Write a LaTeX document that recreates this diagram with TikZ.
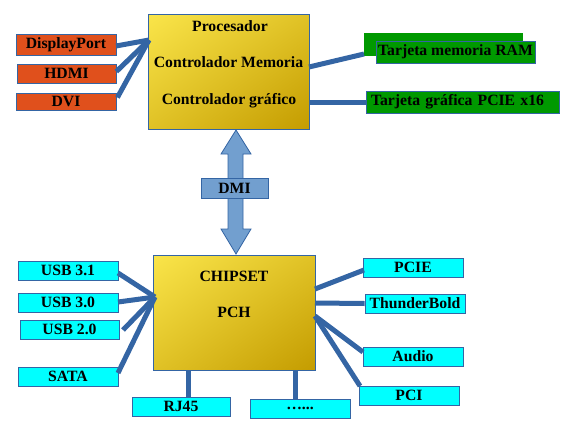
\documentclass[tikz,border=0pt]{standalone}
\usepackage{fontspec}
\setmainfont{Liberation Serif}
\usetikzlibrary{shadings}
\definecolor{lineblue}{HTML}{3465A4}
\definecolor{orangefill}{HTML}{E0501C}
\definecolor{greenfill}{HTML}{009900}
\definecolor{cyanfill}{HTML}{00FFFF}
\definecolor{dmifill}{HTML}{729FCF}
\definecolor{goldA}{HTML}{FAE54A}
\definecolor{goldB}{HTML}{E0C226}
\definecolor{goldC}{HTML}{C49C00}
\begin{document}
\begin{tikzpicture}[x=1pt,y=-1pt,
  txt/.style={font=\bfseries\fontsize{15.7}{18}\selectfont, text=black, inner sep=0pt},
  box/.style={txt, draw=lineblue, line width=0.8pt},
  orangebox/.style={box, fill=orangefill},
  greenbox/.style={box, fill=greenfill},
  cyanbox/.style={box, fill=cyanfill},
  goldbox/.style={draw=lineblue, line width=0.8pt, inner sep=0pt,
    upper left=goldA, upper right=goldB, lower left=goldB, lower right=goldC},
  conn/.style={draw=lineblue, line width=5pt}]
\useasboundingbox (0,0) rectangle (573,434);
% --- top: processor
\node[goldbox, minimum width=161, minimum height=115] (proc) at (228.5,71.5) {};
\node[txt, anchor=base] (pt1) at (230,31) {Procesador};
\node[txt, anchor=base] (pt2) at (228.5,67.7) {Controlador Memoria};
\node[txt, anchor=base] (pt3) at (229,104) {Controlador gráfico};
\node[orangebox, minimum width=100, minimum height=21] (dp) at (66,44.5) {DisplayPort};
\node[orangebox, minimum width=99, minimum height=19] (hdmi) at (66.5,73.5) {HDMI};
\node[orangebox, minimum width=100, minimum height=17] (dvi) at (66,101.5) {DVI};
\node[fill=greenfill, draw=greenfill, inner sep=0pt, minimum width=158, minimum height=22] (ramback) at (443,44) {};
\node[greenbox, minimum width=159, minimum height=22] (ram) at (455.5,52) {Tarjeta memoria RAM};
\node[greenbox, inner xsep=5pt, text width=183pt, align=left, minimum height=22] (pcie16) at (462.5,102) {Tarjeta gráfica PCIE x16};
\coordinate (pin) at (149,40);
\coordinate (pram) at (309,67);
\coordinate (ramin) at (364,54);
\coordinate (pgfx) at (309,102);
\coordinate (gfxin) at (366,102);
\draw[conn] (116,46) -- (pin);
\draw[conn] (hdmi.east) ++(0,-2) -- (pin);
\draw[conn] (dvi.east) ++(1,-4) -- (pin);
\draw[conn] (pram) -- (ramin);
\draw[conn] (pgfx) -- (gfxin);
% --- DMI
\coordinate (dmitop) at (236,130);
\coordinate (dmibot) at (236,254);
\draw[fill=dmifill, draw=lineblue, line width=0.8pt] (dmitop) -- ++(15,24) -- ++(-8,0) -- ++(0,75) -- ++(8,0) -- (dmibot) -- ++(-15,-25) -- ++(7,0) -- ++(0,-75) -- ++(-7,0) -- cycle;
\node[box, fill=dmifill, minimum width=67, minimum height=20] (dmi) at (234.5,188) {DMI};
% --- chipset
\node[goldbox, minimum width=162, minimum height=115] (chip) at (234,312.5) {};
\node[txt, anchor=base] (ct1) at (234,281.3) {CHIPSET};
\node[txt, anchor=base] (ct2) at (234,317.7) {PCH};
\node[cyanbox, minimum width=100, minimum height=19] (u31) at (68,270.5) {USB 3.1};
\node[cyanbox, minimum width=100, minimum height=19] (u30) at (68,302.5) {USB 3.0};
\node[cyanbox, minimum width=99, minimum height=19] (u20) at (69.5,329.5) {USB 2.0};
\node[cyanbox, minimum width=100, minimum height=19] (sata) at (68,376.5) {SATA};
\node[cyanbox, minimum width=98, minimum height=19] (rj) at (181,406.5) {RJ45};
\node[cyanbox, minimum width=100, minimum height=19] (dots) at (300,408.5) {…...};
\node[cyanbox, minimum width=100, minimum height=19] (pcie) at (413,267.5) {PCIE};
\node[cyanbox, minimum width=100, minimum height=19] (tb) at (415,303.5) {ThunderBold};
\node[cyanbox, minimum width=100, minimum height=19] (audio) at (413,356.5) {Audio};
\node[cyanbox, minimum width=100, minimum height=19] (pci) at (409,395.5) {PCI};
\coordinate (cin) at (155,297);
\coordinate (cpcie) at (315,289);
\coordinate (ctb) at (315,303);
\coordinate (cout) at (315,316);
\draw[conn] (118,273) -- (cin);
\draw[conn] (118,302) -- (cin);
\draw[conn] (123,330) -- (cin);
\draw[conn] (118,373) -- (cin);
\draw[conn] (cpcie) -- (364,270);
\draw[conn] (ctb) -- (tb.west);
\draw[conn] (cout) -- (363,352);
\draw[conn] (cout) -- (360,386);
\draw[conn] (rj.north -| 188,0) -- (188,370);
\draw[conn] (dots.north -| 295,0) -- (295,370);
\end{tikzpicture}
\end{document}
